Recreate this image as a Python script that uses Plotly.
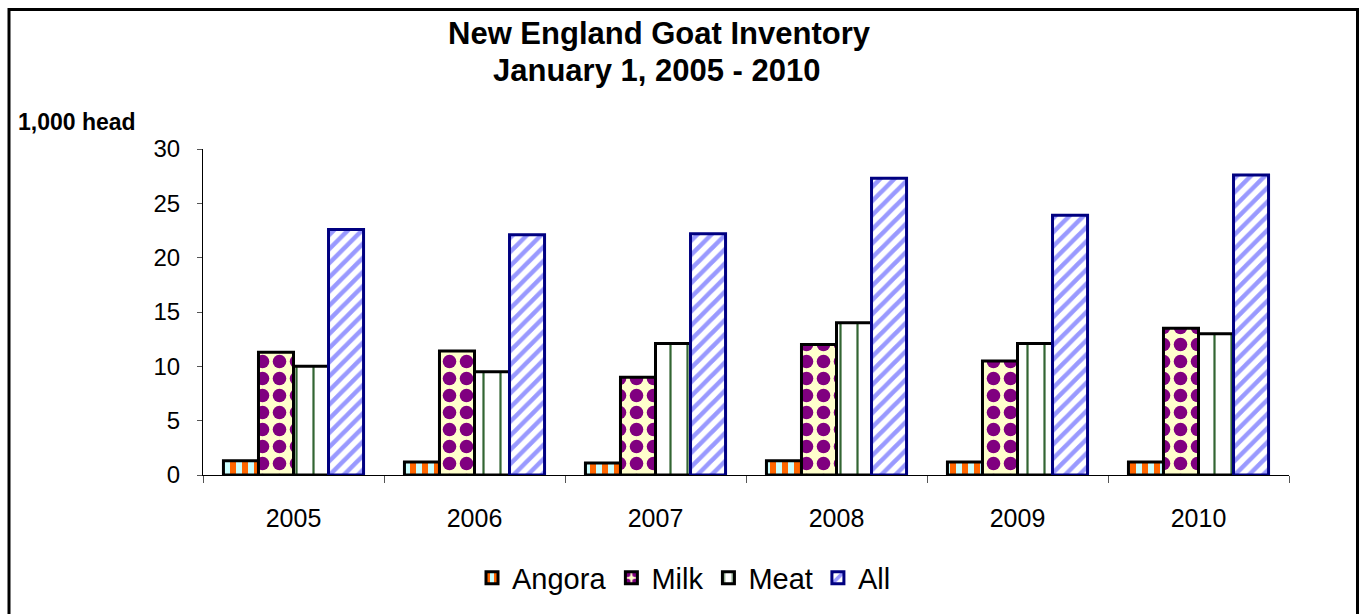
import plotly.graph_objects as go

years = ["2005", "2006", "2007", "2008", "2009", "2010"]
angora = [1.3, 1.2, 1.1, 1.3, 1.2, 1.2]
milk = [11.3, 11.4, 9.0, 12.0, 10.5, 13.5]
meat = [10.0, 9.5, 12.1, 14.0, 12.1, 13.0]
all_goats = [22.6, 22.1, 22.2, 27.3, 23.9, 27.6]

W, H = 1359, 614
L, R, T, B = 203, 70, 149, 139
PW, PH = W - L - R, H - T - B

def px_x(x):
    return (x - L) / PW

def px_y(y):
    return (H - B - y) / PH

fig = go.Figure()
fig.add_trace(go.Bar(
    name="Angora", x=years, y=angora,
    marker=dict(color="#CCFFFF", line=dict(color="black", width=3),
                pattern=dict(shape="|", fgcolor="#FF6600", bgcolor="#CCFFFF",
                             size=12, solidity=0.5, fillmode="replace")),
))
fig.add_trace(go.Bar(
    name="Milk", x=years, y=milk,
    marker=dict(color="#FFFFCC", line=dict(color="black", width=3),
                pattern=dict(shape=".", fgcolor="#800080", bgcolor="#FFFFCC",
                             size=17, solidity=0.5, fillmode="replace")),
))
fig.add_trace(go.Bar(
    name="Meat", x=years, y=meat,
    marker=dict(color="white", line=dict(color="black", width=3),
                pattern=dict(shape="|", fgcolor="#336633", bgcolor="white",
                             size=17, solidity=0.13, fillmode="replace")),
))
fig.add_trace(go.Bar(
    name="All", x=years, y=all_goats,
    marker=dict(color="white", line=dict(color="#000080", width=3),
                pattern=dict(shape="/", fgcolor="#9999FF", bgcolor="white",
                             size=10, solidity=0.45, fillmode="replace")),
))

fig.update_layout(
    width=W, height=H,
    margin=dict(l=L, r=R, t=T, b=B, autoexpand=False),
    paper_bgcolor="white", plot_bgcolor="white",
    barmode="group", bargap=0.226, bargroupgap=0,
    font=dict(family="Liberation Sans, Arial, sans-serif", color="black"),
    showlegend=True,
    legend=dict(orientation="h", x=px_x(684), xanchor="center",
                y=px_y(578), yanchor="middle",
                font=dict(size=29, color="black"), traceorder="normal",
                bgcolor="rgba(0,0,0,0)"),
    xaxis=dict(type="category", showline=True, linecolor="black", linewidth=1,
               ticks="outside", tickson="boundaries", ticklen=7, tickcolor="#555555",
               tickfont=dict(size=25, color="black"), ticklabelstandoff=21,
               showgrid=False, zeroline=False, automargin=False),
    yaxis=dict(range=[0, 30], dtick=5, showline=True, linecolor="black", linewidth=1,
               ticks="outside", ticklen=5, tickcolor="#555555",
               tickfont=dict(size=24, color="black"), ticklabelstandoff=12,
               showgrid=False, zeroline=False, automargin=False),
)

fig.add_annotation(text="<b>New England Goat Inventory</b>", xref="paper", yref="paper",
                   x=px_x(659), y=px_y(33), xanchor="center", yanchor="middle",
                   showarrow=False, font=dict(size=31, color="black"))
fig.add_annotation(text="<b>January 1, 2005 - 2010</b>", xref="paper", yref="paper",
                   x=px_x(656), y=px_y(70), xanchor="center", yanchor="middle",
                   showarrow=False, font=dict(size=31, color="black"))
fig.add_annotation(text="<b>1,000 head</b>", xref="paper", yref="paper",
                   x=px_x(16), y=px_y(122), xanchor="left", yanchor="middle",
                   showarrow=False, font=dict(size=23, color="black"))

fig.add_shape(type="rect", xref="paper", yref="paper",
              x0=px_x(9), x1=px_x(1357.5), y0=px_y(630), y1=px_y(9.5),
              line=dict(color="black", width=3), fillcolor="rgba(0,0,0,0)", layer="above")

fig.write_html("out.html")
